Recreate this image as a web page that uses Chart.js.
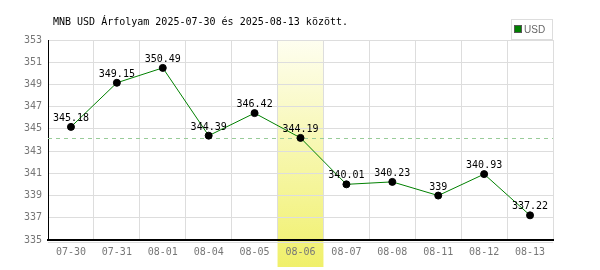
<!DOCTYPE html>
<html>
<head>
    <meta charset="utf-8">
    <title>MNB USD árfolyam</title>
    <style>
        body, html {
            margin: 0;
            background-color: #fff;
        }
        #myChart {
            width: 600px;
            height: 270px;
        }
    </style>
</head>
<body>
    <canvas id="myChart" width="600" height="270"></canvas>
    <script src="https://cdn.jsdelivr.net/npm/chart.js"></script>
    <script>
        const titleText = 'MNB USD Árfolyam 2025-07-30 és 2025-08-13 között.';
        const seriesName = 'USD';
        const days = ['07-30', '07-31', '08-01', '08-04', '08-05', '08-06', '08-07', '08-08', '08-11', '08-12', '08-13'];
        const rates = [345.18, 349.15, 350.49, 344.39, 346.42, 344.19, 340.01, 340.23, 339, 340.93, 337.22];
        const yTicks = [335, 337, 339, 341, 343, 345, 347, 349, 351, 353];
        const highlightIndex = 5;

        const mono = '"DejaVu Sans Mono", monospace';

        // yellow column behind the selected day + reference line at its value
        const highlightPlugin = {
            id: 'highlight',
            beforeDraw(chart) {
                const ctx = chart.ctx;
                const x = chart.scales.x;
                const area = chart.chartArea;
                const half = (x.getPixelForValue(1) - x.getPixelForValue(0)) / 2;
                const cx = x.getPixelForValue(highlightIndex);
                const grad = ctx.createLinearGradient(0, area.top, 0, 267);
                grad.addColorStop(0, '#fefef0');
                grad.addColorStop(1, '#f0f06a');
                ctx.save();
                ctx.fillStyle = grad;
                ctx.fillRect(cx - half, area.top, half * 2, 267 - area.top);
                ctx.restore();
            },
            beforeDatasetsDraw(chart) {
                const ctx = chart.ctx;
                const area = chart.chartArea;
                const y = chart.scales.y.getPixelForValue(rates[highlightIndex]);
                ctx.save();
                ctx.strokeStyle = '#99cc99';
                ctx.lineWidth = 1;
                ctx.setLineDash([4, 4]);
                ctx.beginPath();
                ctx.moveTo(area.left, Math.round(y) + 0.5);
                ctx.lineTo(area.right, Math.round(y) + 0.5);
                ctx.stroke();
                // light line under the x axis
                ctx.setLineDash([]);
                ctx.strokeStyle = '#dddddd';
                ctx.beginPath();
                ctx.moveTo(area.left, area.bottom + 2.5);
                ctx.lineTo(area.right, area.bottom + 2.5);
                ctx.stroke();
                ctx.restore();
            },
            afterDatasetsDraw(chart) {
                const ctx = chart.ctx;
                const meta = chart.getDatasetMeta(0);
                ctx.save();
                ctx.font = '10px ' + mono;
                ctx.fillStyle = '#000';
                ctx.textAlign = 'center';
                ctx.textBaseline = 'alphabetic';
                meta.data.forEach((pt, i) => {
                    ctx.fillText(String(rates[i]), pt.x, pt.y - 6);
                });
                ctx.restore();
            },
            afterDraw(chart) {
                const ctx = chart.ctx;
                ctx.save();
                // title
                ctx.font = '10px ' + mono;
                ctx.fillStyle = '#000';
                ctx.textBaseline = 'middle';
                ctx.fillText(titleText, 53, 22);
                // legend box
                ctx.strokeStyle = '#dddddd';
                ctx.lineWidth = 1;
                ctx.strokeRect(511.5, 19.5, 41, 20);
                ctx.fillStyle = '#008000';
                ctx.fillRect(515, 26, 6, 6);
                ctx.strokeStyle = '#555';
                ctx.strokeRect(514.5, 25.5, 7, 7);
                ctx.font = '10px "Liberation Sans Narrow", "Liberation Sans", sans-serif';
                ctx.fillStyle = '#666';
                ctx.fillText(seriesName, 524, 30);
                ctx.restore();
            }
        };

        const ctx = document.getElementById('myChart').getContext('2d');
        new Chart(ctx, {
            type: 'line',
            data: {
                labels: days,
                datasets: [{
                    label: seriesName,
                    data: rates,
                    borderColor: '#008000',
                    borderWidth: 1,
                    pointBackgroundColor: '#000',
                    pointBorderColor: '#000',
                    pointRadius: 3.5,
                    tension: 0
                }]
            },
            options: {
                responsive: false,
                animation: false,
                layout: { padding: { top: 40, right: 47, left: 0, bottom: 0 } },
                plugins: {
                    legend: { display: false },
                    tooltip: { enabled: false }
                },
                scales: {
                    x: {
                        offset: true,
                        grid: { offset: true, color: '#dddddd', drawTicks: false },
                        border: { color: '#000', width: 2 },
                        ticks: { color: '#777', font: { family: mono, size: 10 }, padding: 6, maxRotation: 0, autoSkip: false },
                        afterFit(s) { s.height = 30; }
                    },
                    y: {
                        min: 335,
                        max: 353,
                        afterBuildTicks(s) { s.ticks = yTicks.map(v => ({ value: v })); },
                        grid: { color: '#dddddd', drawTicks: false },
                        border: { color: '#000', width: 1 },
                        ticks: { color: '#777', font: { family: mono, size: 10 }, padding: 6 },
                        afterFit(s) { s.width = 48; }
                    }
                }
            },
            plugins: [highlightPlugin]
        });
    </script>
</body>
</html>
